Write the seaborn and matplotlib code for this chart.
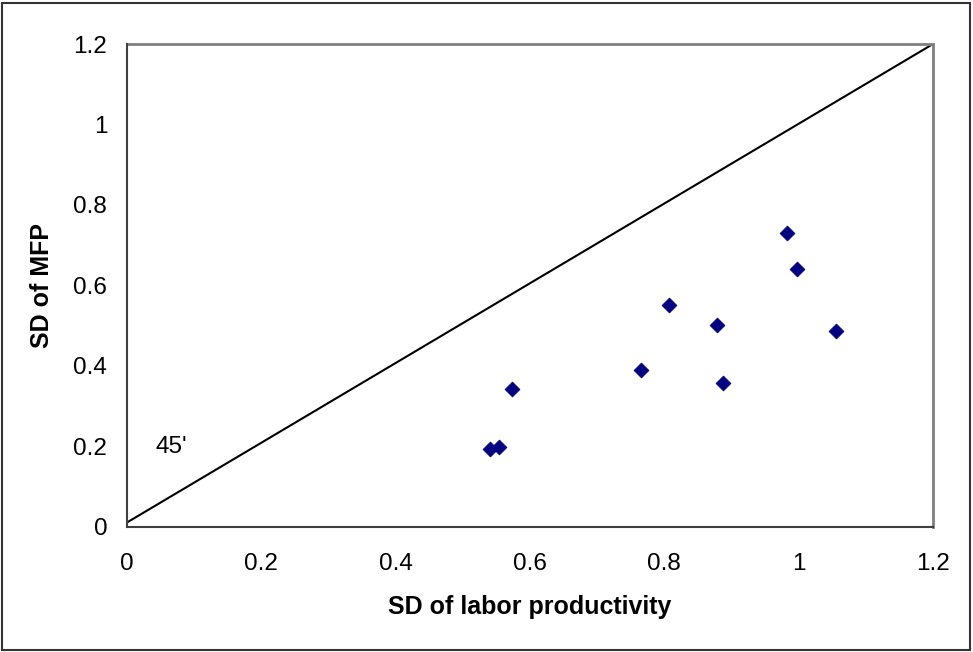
import matplotlib
matplotlib.use("Agg")
import matplotlib.pyplot as plt
import seaborn as sns
import pandas as pd
from matplotlib.patches import Rectangle

# Data
sd_labor = [0.982, 0.997, 0.807, 0.878, 1.055, 0.765, 0.888, 0.573, 0.541, 0.554]
sd_mfp = [0.731, 0.640, 0.552, 0.501, 0.486, 0.389, 0.357, 0.342, 0.193, 0.197]
line_x = [0.0, 1.2]
line_y = [0.01, 1.2]
tick_vals = [0, 0.2, 0.4, 0.6, 0.8, 1.0, 1.2]
tick_labels = ["0", "0.2", "0.4", "0.6", "0.8", "1", "1.2"]

sns.set_style("white")
plt.rcParams['font.family'] = ['Liberation Sans', 'DejaVu Sans']
plt.rcParams['text.color'] = 'black'
plt.rcParams['axes.labelcolor'] = 'black'
plt.rcParams['xtick.labelcolor'] = 'black'
plt.rcParams['ytick.labelcolor'] = 'black'

df = pd.DataFrame({"labor": sd_labor, "mfp": sd_mfp})

fig = plt.figure(figsize=(9.73, 6.52), dpi=100)
ax = fig.add_axes([0.1302, 0.1922, 0.8287, 0.7403])

ax.plot(line_x, line_y, color="black", lw=1.5, zorder=2)
sns.scatterplot(data=df, x="labor", y="mfp", marker="D", s=58, color="#000080",
                edgecolor="#000080", linewidth=0.5, ax=ax, zorder=3)

ax.text(0.0436, 0.199, "45'", fontsize=17.5, va="center", ha="left", color="black")

ax.set_xlim(0, 1.2)
ax.set_ylim(0, 1.2)
ax.set_xticks(tick_vals)
ax.set_xticklabels(tick_labels)
ax.set_yticks(tick_vals)
ax.set_yticklabels(tick_labels)
ax.tick_params(axis="both", direction="out", length=7, width=1.2, color="#404040",
               labelsize=17.5, labelcolor="black")
ax.tick_params(axis="x", pad=12)
ax.tick_params(axis="y", pad=7)
ax.set_xlabel("SD of labor productivity", fontsize=18, fontweight="bold", va="center",
              color="black")
ax.set_ylabel("SD of MFP", fontsize=18, fontweight="bold", va="center", ha="center",
              color="black")
ax.xaxis.set_label_coords(0.5, -0.1657)
ax.yaxis.set_label_coords(-0.105, 0.5)

for s in ["top", "right"]:
    ax.spines[s].set_color("#808080")
    ax.spines[s].set_linewidth(2)
for s in ["left", "bottom"]:
    ax.spines[s].set_color("#404040")
    ax.spines[s].set_linewidth(1.5)
ax.spines["left"].set_zorder(4)
ax.spines["bottom"].set_zorder(4)

fig.patches.append(Rectangle((0.002, 0.003), 0.995, 0.993, transform=fig.transFigure,
                             fill=False, edgecolor="#333333", lw=1.5))

fig.savefig("out.png", dpi=100, facecolor="white")
